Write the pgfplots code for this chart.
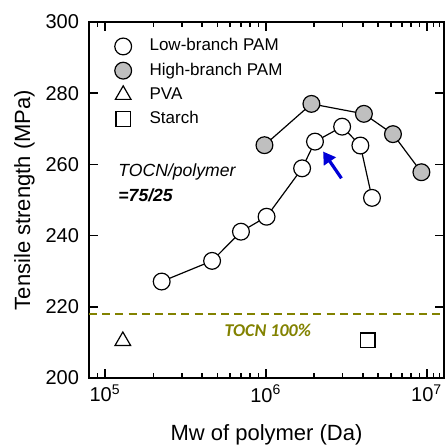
\documentclass[border=0pt]{standalone}
\usepackage{fontspec}
\setmainfont{Liberation Sans}
\newfontfamily\calibri{Carlito}
\usepackage{pgfplots}
\pgfplotsset{compat=1.18}
\usetikzlibrary{arrows.meta}
\definecolor{tocnolive}{RGB}{130,130,0}
\definecolor{arrowblue}{RGB}{0,0,215}
\begin{document}
\begin{tikzpicture}
\begin{axis}[
  scale only axis, width=177.5pt, height=178pt,
  at={(0,0)}, anchor=south west,
  xmode=log, xmin=7.95e4, xmax=1.281e7,
  ymin=200, ymax=300, ytick={200,220,...,300},
  xtick={1e5,1e6,1e7},
  xticklabels={10\textsuperscript{5},10\textsuperscript{6},10\textsuperscript{7}},
  minor xtick={8e4,9e4,2e5,3e5,4e5,5e5,6e5,7e5,8e5,9e5,2e6,3e6,4e6,5e6,6e6,7e6,8e6,9e6,1.1e7,1.2e7},
  minor ytick={},
  tick pos=both, tick align=inside,
  major tick length=4.5pt, minor tick length=2.5pt,
  every tick/.style={black, line width=0.8pt},
  axis line style={line width=0.9pt},
  /pgf/number format/assume math mode=true,
  tick label style={font=\fontsize{10}{12}\selectfont},
  yticklabel style={xshift=-1.5pt},
  xlabel={Mw of polymer (Da)},
  ylabel={Tensile strength (MPa)},
  label style={font=\fontsize{11}{13}\selectfont},
  xlabel style={at={(axis description cs:0.5,-0.160)}, anchor=center},
  ylabel style={at={(axis description cs:-0.182,0.5)}, anchor=center},
  clip=false,
  legend style={at={(axis description cs:0.0715,0.958)}, anchor=north west,
    draw=none, fill=none, inner sep=0pt, row sep=3pt, column sep=8.5pt,
    font=\fontsize{8.5}{10}\selectfont,
    nodes={inner sep=0.5pt, text height=6.3pt, text depth=1.8pt}},
  legend cell align=left,
]
\addlegendimage{only marks, mark=*, mark size=4.2pt, mark options={fill=white, draw=black, line width=0.6pt}}
\addlegendentry{Low-branch PAM}
\addlegendimage{only marks, mark=*, mark size=4.2pt, mark options={fill=black!25, draw=black, line width=0.6pt}}
\addlegendentry{High-branch PAM}
\addlegendimage{only marks, mark=triangle, mark size=4.5pt, mark options={draw=black, line width=0.6pt}}
\addlegendentry{PVA}
\addlegendimage{only marks, mark=square, mark size=3.6pt, mark options={draw=black, line width=0.6pt}}
\addlegendentry{Starch}

% TOCN 100% reference level
\addplot[forget plot, tocnolive, line width=1pt, dash pattern=on 4pt off 2.6pt]
  coordinates {(7.95e4,217.9) (1.281e7,217.9)};

% high-branch PAM
\addplot[forget plot, black, line width=0.6pt, mark=*, mark size=4.2pt,
  mark options={fill=black!25, draw=black}]
  coordinates {(9.8e5,265.4) (1.92e6,277.0) (4.07e6,274.2) (6.17e6,268.5) (9.27e6,257.8)};

% low-branch PAM
\addplot[forget plot, black, line width=0.6pt, mark=*, mark size=4.2pt,
  mark options={fill=white, draw=black}]
  coordinates {(2.25e5,227.1) (4.63e5,232.9) (7.0e5,241.1) (1.01e6,245.3)
    (1.68e6,258.9) (2.02e6,266.4) (2.98e6,270.6) (3.87e6,265.3) (4.57e6,250.6)};

% PVA
\addplot[forget plot, only marks, mark=triangle, mark size=4.5pt,
  mark options={draw=black, line width=0.6pt}]
  coordinates {(1.29e5,210.4)};

% starch
\addplot[forget plot, only marks, mark=square, mark size=3.6pt,
  mark options={draw=black, line width=0.6pt}]
  coordinates {(4.3e6,210.6)};

\node[anchor=west, inner sep=0pt, font=\fontsize{8.8}{10}\selectfont\itshape]
  at (axis cs:1.205e5,257.8) {TOCN/polymer};
\node[anchor=west, inner sep=0pt, font=\fontsize{8.8}{10}\selectfont\bfseries\itshape]
  at (axis cs:1.205e5,251.2) {=75/25};
\node[anchor=center, inner sep=0pt, text=tocnolive, font=\fontsize{9}{11}\selectfont\calibri\bfseries\itshape]
  at (axis cs:1.028e6,213.5) {TOCN 100\%};
\draw[arrowblue, line width=1.6pt, -{Triangle[length=6pt,width=7pt]}]
  (axis cs:2.95e6,256.1) -- (axis cs:2.27e6,263.6);
\end{axis}
\pgfresetboundingbox
\useasboundingbox (-44.5pt,189pt) rectangle (178.5pt,-34pt);
\end{tikzpicture}
\end{document}
